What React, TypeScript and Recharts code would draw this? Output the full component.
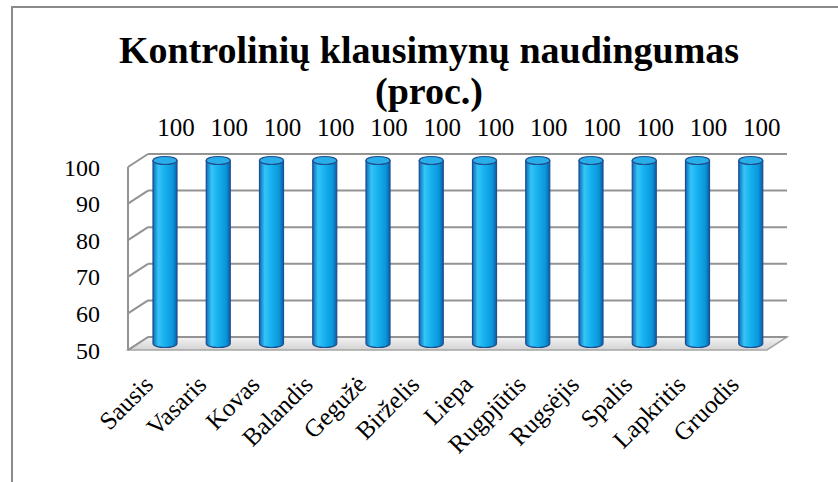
import { BarChart, Bar, XAxis, YAxis, CartesianGrid, LabelList } from 'recharts';

const months = [
  'Sausis', 'Vasaris', 'Kovas', 'Balandis', 'Gegužė', 'Birželis',
  'Liepa', 'Rugpjūtis', 'Rugsėjis', 'Spalis', 'Lapkritis', 'Gruodis',
];
const usefulness = [100, 100, 100, 100, 100, 100, 100, 100, 100, 100, 100, 100];
const yTicks = [50, 60, 70, 80, 90, 100];

const data = months.map((m, i) => ({ month: m, value: usefulness[i] }));

const SERIF = 'Liberation Serif, DejaVu Serif, serif';
// depth of the fake 3D box
const DX = 20;
const DY = -13;

function GridLine(props: any) {
  const { x1, y1, x2, y, height } = props;
  const isFloor = Math.abs(y1 - (y + height)) < 0.5;
  return (
    <g>
      {isFloor && (
        <polygon
          points={`${x1},${y1} ${x2},${y1} ${x2 + DX},${y1 + DY} ${x1 + DX},${y1 + DY}`}
          fill="url(#floorGrad)"
          stroke="#a6a6a6"
          strokeWidth={1.5}
        />
      )}
      <line x1={x1 + DX} y1={y1 + DY} x2={x2 + DX} y2={y1 + DY} stroke="#939393" strokeWidth={2} />
      <line x1={x1} y1={y1} x2={x1 + DX} y2={y1 + DY} stroke="#939393" strokeWidth={2} />
    </g>
  );
}

function Cylinder(props: any) {
  const { x, y, width, height } = props;
  const l = x + DX / 2;
  const r = l + width;
  const cx = l + width / 2;
  const top = y + DY / 2;
  const bottom = y + height + DY / 2;
  const rx = width / 2;
  const ry = 4;
  return (
    <g>
      <path
        d={`M${l},${top} L${l},${bottom} A${rx},${ry} 0 0 0 ${r},${bottom} L${r},${top} Z`}
        fill="url(#cylGrad)"
        stroke="#1f4e8f"
        strokeWidth={1.2}
      />
      <ellipse cx={cx} cy={top} rx={rx} ry={ry} fill="#2aaee9" stroke="#1f4e8f" strokeWidth={1.2} />
    </g>
  );
}

function ValueLabel(props: any) {
  const { x, y, width, value } = props;
  return (
    <text
      x={x + width / 2 + DX / 2 + 11}
      y={y + DY / 2 - 25}
      textAnchor="middle"
      fontFamily={SERIF}
      fontSize={25}
      fill="#000"
    >
      {value}
    </text>
  );
}

function MonthTick(props: any) {
  const { x, y, payload } = props;
  const ax = x;
  const ay = y + 28;
  return (
    <text
      x={ax}
      y={ay}
      textAnchor="end"
      transform={`rotate(-45, ${ax}, ${ay})`}
      fontFamily={SERIF}
      fontSize={25}
      fill="#000"
    >
      {payload.value}
    </text>
  );
}

export default function App() {
  return (
    <div style={{ position: 'absolute', left: 0, top: 0, width: 838, height: 482, background: '#fff' }}>
      <div
        style={{
          position: 'absolute', left: 11, top: 6, width: 827, height: 476,
          borderLeft: '2px solid #8a8a8a', borderTop: '2px solid #8a8a8a', pointerEvents: 'none',
        }}
      />
      <div
        style={{
          position: 'absolute', left: 0, top: 30, width: 858, textAlign: 'center',
          fontFamily: SERIF, fontWeight: 'bold', fontSize: 38, lineHeight: '41px', color: '#000',
        }}
      >
        Kontrolinių klausimynų naudingumas
        <br />
        (proc.)
      </div>
      <svg width={0} height={0} style={{ position: 'absolute' }}>
        <defs>
          <linearGradient id="cylGrad" x1="0" y1="0" x2="1" y2="0">
            <stop offset="0%" stopColor="#0b6cbc" />
            <stop offset="22%" stopColor="#35c4f6" />
            <stop offset="50%" stopColor="#15b0ef" />
            <stop offset="82%" stopColor="#0b97da" />
            <stop offset="100%" stopColor="#0a5ea9" />
          </linearGradient>
          <linearGradient id="floorGrad" x1="0" y1="0" x2="0" y2="1">
            <stop offset="0%" stopColor="#f4f4f4" />
            <stop offset="100%" stopColor="#d2d2d2" />
          </linearGradient>
        </defs>
      </svg>
      <BarChart
        width={838}
        height={482}
        data={data}
        margin={{ top: 167, right: 71, bottom: 32, left: 0 }}
        style={{ position: 'absolute', left: 0, top: 0 }}
      >
        <CartesianGrid vertical={false} horizontal={(p: any) => <GridLine {...p} />} />
        <XAxis
          dataKey="month"
          height={100}
          axisLine={false}
          tickLine={false}
          interval={0}
          tick={<MonthTick />}
        />
        <YAxis
          domain={[50, 100]}
          ticks={yTicks}
          width={128}
          axisLine={{ stroke: '#939393', strokeWidth: 2 }}
          tickLine={false}
          tickMargin={22}
          tick={{ fontFamily: SERIF, fontSize: 24, fill: '#000' }}
        />
        <Bar dataKey="value" barSize={24} shape={<Cylinder />} isAnimationActive={false}>
          <LabelList dataKey="value" content={<ValueLabel />} />
        </Bar>
      </BarChart>
    </div>
  );
}
